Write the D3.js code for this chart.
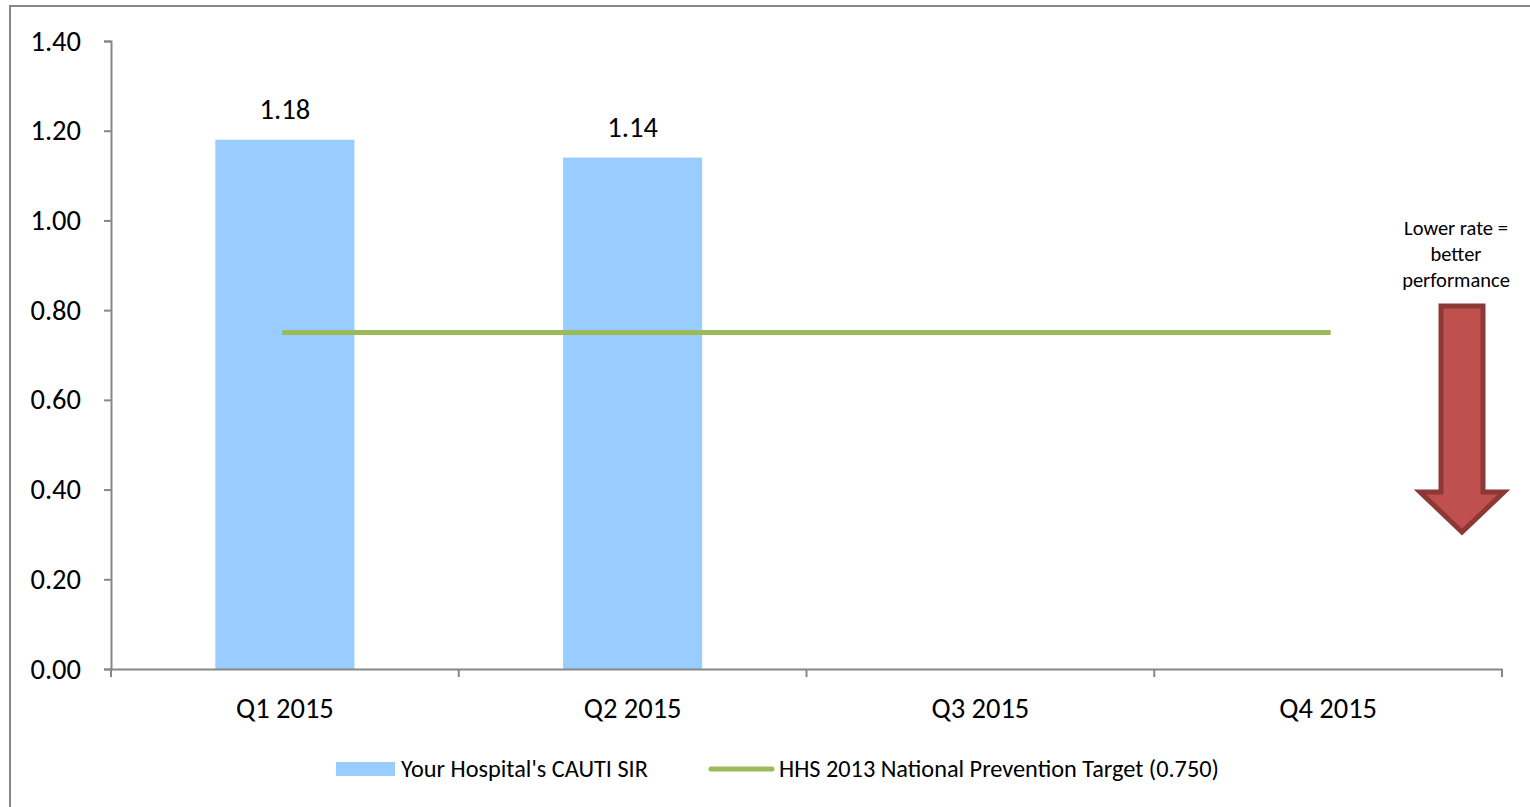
<!DOCTYPE html>
<html><head><meta charset="utf-8">
<script src="https://cdn.jsdelivr.net/npm/d3@7"></script>
<style>body{margin:0;background:#fff;} text{font-family:Carlito,Calibri,"Open Sans",sans-serif;}</style>
</head><body>
<svg id="c" width="1530" height="807"></svg>
<script>
const categories = ["Q1 2015","Q2 2015","Q3 2015","Q4 2015"];
const sirValues = [1.18, 1.14, null, null];
const targetValues = [0.75, 0.75, 0.75, 0.75];
const yTicks = [0,0.2,0.4,0.6,0.8,1.0,1.2,1.4];
const seriesNames = ["Your Hospital's CAUTI SIR","HHS 2013 National Prevention Target (0.750)"];
const noteLines = ["Lower rate =","better","performance"];

(function(){
const svg = d3.select("#c");
svg.append("rect").attr("x",10).attr("y",6).attr("width",1530).attr("height",820)
  .attr("fill","#fff").attr("stroke","#878787").attr("stroke-width",2);

const x = d3.scaleBand().domain(categories).range([111,1502]).paddingInner(0.6).paddingOuter(0.3);
const xb = d3.scaleBand().domain(categories).range([111,1502]);
const y = d3.scaleLinear().domain([0,1.4]).range([669,41]);

// bars
svg.selectAll("rect.bar").data(categories.map((c,i)=>({c,v:sirValues[i]})).filter(d=>d.v!=null))
  .enter().append("rect").attr("class","bar")
  .attr("x",d=>x(d.c)).attr("width",x.bandwidth())
  .attr("y",d=>y(d.v)).attr("height",d=>y(0)-y(d.v)).attr("fill","#99ccff");

// axes
const ya = svg.append("g").attr("transform","translate(111,0)")
  .call(d3.axisLeft(y).tickValues(yTicks).tickFormat(d3.format(".2f")).tickSizeOuter(0).tickSize(7).tickPadding(23));
ya.select(".domain").attr("stroke","#878787").attr("stroke-width",2);
ya.selectAll(".tick line").attr("stroke","#878787").attr("stroke-width",2);
ya.selectAll("text").attr("font-size",28.5).attr("fill","#000");

const xa = svg.append("g").attr("transform","translate(0,669)")
  .call(d3.axisBottom(xb).tickSize(0).tickPadding(29));
xa.select(".domain").attr("stroke","#878787").attr("stroke-width",2);
xa.selectAll("text").attr("font-size",28.5).attr("fill","#000");
const bounds = categories.map(c=>xb(c)).concat([xb(categories[3])+xb.bandwidth()]);
svg.selectAll("line.xt").data(bounds).enter().append("line")
  .attr("x1",d=>d).attr("x2",d=>d).attr("y1",669).attr("y2",677)
  .attr("stroke","#878787").attr("stroke-width",2);

// target line
const line = d3.line().x((d,i)=>xb(categories[i])+xb.bandwidth()/2).y(d=>y(d));
svg.append("path").datum(targetValues).attr("d",line).attr("fill","none")
  .attr("stroke","#9bbb59").attr("stroke-width",5).attr("stroke-linecap","square");

// data labels
svg.selectAll("text.dl").data(categories.map((c,i)=>({c,v:sirValues[i]})).filter(d=>d.v!=null))
  .enter().append("text").attr("class","dl")
  .attr("x",d=>xb(d.c)+xb.bandwidth()/2).attr("y",d=>y(d.v)-21)
  .attr("text-anchor","middle").attr("font-size",28.5).text(d=>d.v.toFixed(2));

// note
svg.selectAll("text.note").data(noteLines).enter().append("text")
  .attr("x",1456).attr("y",(d,i)=>235+i*26).attr("text-anchor","middle")
  .attr("font-size",20.5).text(d=>d);

// arrow
const ax = 1462, sw = 21, aTop = 306, headY = 492, hw = 42, tip = 532;
svg.append("path").attr("d",`M${ax-sw},${aTop} L${ax+sw},${aTop} L${ax+sw},${headY} L${ax+hw},${headY} L${ax},${tip} L${ax-hw},${headY} L${ax-sw},${headY} Z`)
  .attr("fill","#c0504d").attr("stroke","#8c3836").attr("stroke-width",5).attr("stroke-linejoin","miter");

// legend
const lg = svg.append("g");
lg.append("rect").attr("x",336).attr("y",762).attr("width",59).attr("height",14).attr("fill","#99ccff");
lg.append("text").attr("x",401).attr("y",777).attr("font-size",24.3).text(seriesNames[0]);
lg.append("line").attr("x1",711).attr("x2",772).attr("y1",769).attr("y2",769)
  .attr("stroke","#9bbb59").attr("stroke-width",5).attr("stroke-linecap","round");
lg.append("text").attr("x",779).attr("y",777).attr("font-size",24.3).text(seriesNames[1]);
})();
</script>
</body></html>
